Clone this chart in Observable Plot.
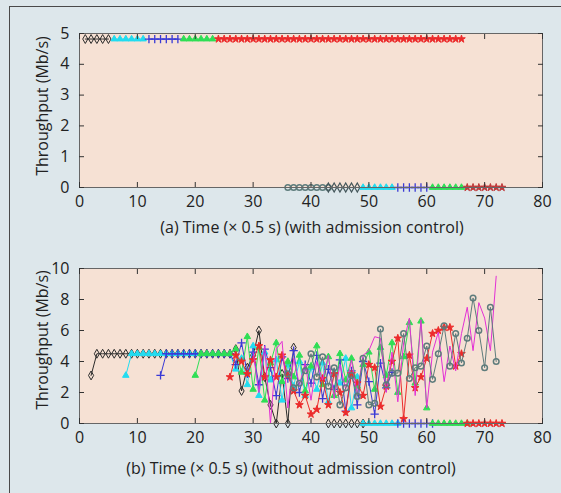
<!DOCTYPE html>
<html><head><meta charset="utf-8">
<script src="https://cdn.jsdelivr.net/npm/d3@7"></script>
<script src="https://cdn.jsdelivr.net/npm/@observablehq/plot@0.6"></script>
<style>
html,body{margin:0;padding:0;background:#dde7eb;}
#page{position:relative;width:561px;height:493px;background:#dde7eb;overflow:hidden;font-family:"Open Sans",sans-serif;color:#222;}
#border{position:absolute;left:9px;top:6px;width:700px;height:700px;border-top:1.5px solid #4a4a4a;border-left:1.5px solid #4a4a4a;}
.panel{position:absolute;left:0;}
.cap{position:absolute;transform:translate(-50%,-50%);white-space:nowrap;font-size:16px;}
.ylab{position:absolute;transform:translate(-50%,-50%) rotate(-90deg);white-space:nowrap;font-size:16px;}
</style></head>
<body>
<div id="page">
  <div id="border"></div>
  <div class="panel" id="pa" style="top:0px"></div>
  <div class="panel" id="pb" style="top:240px"></div>
  <div class="ylab" style="left:42px;top:106px">Throughput (Mb/s)</div>
  <div class="ylab" style="left:42px;top:340px">Throughput (Mb/s)</div>
  <div class="cap" style="left:312px;top:227px">(a) Time (× 0.5 s) (with admission control)</div>
  <div class="cap" style="left:291px;top:468px">(b) Time (× 0.5 s) (without admission control)</div>
</div>
<script>
// ---- tick labels ----
const timeTicks = [0, 10, 20, 30, 40, 50, 60, 70, 80];
const aTicksY = [0, 1, 2, 3, 4, 5];
const bTicksY = [0, 2, 4, 6, 8, 10];

// ---- panel (a): with admission control (flat levels) ----
const aHigh = 4.82;
const aLow = 0;
const aBlackT = [1, 2, 3, 4, 5];
const aCyanT = [6, 7, 8, 9, 10, 11];
const aBlueT = [12, 13, 14, 15, 16, 17];
const aGreenT = [18, 19, 20, 21, 22, 23];
const aRedT = [24, 25, 26, 27, 28, 29, 30, 31, 32, 33, 34, 35, 36, 37, 38, 39, 40, 41, 42, 43, 44, 45, 46, 47, 48, 49, 50, 51, 52, 53, 54, 55, 56, 57, 58, 59, 60, 61, 62, 63, 64, 65, 66];
const aMagentaLowT = [30, 31, 32, 33, 34, 35, 36];
const aGreyLowT = [36, 37, 38, 39, 40, 41, 42, 43];
const aDarkLowT = [43, 44, 45, 46, 47, 48];
const aCyanLowT = [49, 50, 51, 52, 53, 54];
const aBlueLowT = [55, 56, 57, 58, 59, 60];
const aGreenLowT = [61, 62, 63, 64, 65, 66];
const aRedLowT = [67, 68, 69, 70, 71, 72, 73];

// ---- panel (b): without admission control ----
const bBlackT0 = 2;
const bBlack = [3.1, 4.5, 4.5, 4.5, 4.5, 4.5, 4.5, 4.5, 4.5, 4.5, 4.5, 4.5, 4.5, 4.5, 4.5, 4.5, 4.5, 4.5, 4.5, 4.5, 4.5, 4.5, 4.5, 4.5, 4.5,
  4.8, 2.1, 3.6, 4.4, 6.0, 3.0, 1.2, 0, 3.2, 0, 4.9];
const bCyanT0 = 8;
const bCyan = [3.1, 4.5, 4.5, 4.5, 4.5, 4.5, 4.5, 4.5, 4.5, 4.5, 4.5, 4.5, 4.5, 4.5, 4.5, 4.5, 4.5, 4.5, 4.5,
  3.5, 4.2, 2.5, 5.0, 1.8, 4.6, 2.8, 4.1, 1.5, 3.8, 2.4, 4.0, 1.8, 3.6, 2.2, 3.9, 1.4, 3.3, 2.6, 4.2, 1.0, 3.0];
const bBlueT0 = 14;
const bBlue = [3.1, 4.5, 4.5, 4.5, 4.5, 4.5, 4.5, 4.5, 4.5, 4.5, 4.5, 4.5, 4.5,
  3.8, 5.2, 3.2, 4.6, 2.5, 4.8, 3.6, 1.8, 4.3, 2.9, 4.7, 2.0, 3.8, 2.6, 4.4, 1.6, 3.5, 2.2, 4.1, 0.8, 3.4, 1.2, 4.0, 2.7, 0.6, 3.9, 2.3, 3.3];
const bGreenT0 = 20;
const bGreen = [3.1, 4.5, 4.5, 4.5, 4.5, 4.5, 4.5,
  4.8, 3.3, 5.6, 2.2, 4.9, 1.5, 3.9, 5.2, 2.7, 4.0, 3.0, 4.4, 2.1, 3.7, 5.0, 2.5, 4.3, 1.8, 4.5, 2.8, 4.2, 2.4, 3.8, 4.6,
  2.2, 4.9, 3.1, 5.2, 2.0, 4.3, 6.5, 2.6, 6.6, 1.0];
const bRedT0 = 26;
const bRed = [3.0, 4.4, 4.0, 3.2, 4.1, 5.0, 3.0, 4.1, 3.0, 4.4, 3.1, 2.1, 1.2, 1.8, 0.6, 0.9, 2.9, 1.2, 3.2, 2.0, 0.7,
  3.2, 2.6, 1.8, 3.8, 3.6, 1.1, 2.4, 4.0, 5.5, 0.3, 4.4, 2.3, 3.0, 4.2, 5.8, 6.0, 6.2, 6.2, 3.7, 4.5];
const bMagentaT0 = 30;
const bMagenta = [4.6, 2.0, 5.0, 0.0, 4.8, 5.3, 1.0, 4.2, 2.5, 3.9, 1.5, 4.0, 2.8, 4.4, 1.6, 3.8, 2.2, 4.1, 1.9, 4.4, 4.7,
  5.6, 5.5, 2.0, 4.6, 1.4, 5.2, 6.8, 1.8, 6.7, 1.0, 4.6, 5.9, 2.7, 5.0, 3.4, 5.8, 7.5, 4.7, 7.8, 6.8, 4.7, 9.5];
const bGreyT0 = 36;
const bGrey = [3.2, 2.3, 2.6, 3.4, 4.5, 3.0, 4.3, 2.4, 3.6, 1.2, 2.3, 3.1, 1.75, 4.2, 1.2, 1.3, 6.1, 2.5, 3.25, 3.25,
  5.8, 2.9, 3.6, 3.7, 5.0, 2.85, 4.5, 6.3, 3.7, 5.8, 3.9, 5.5, 8.1, 6.0, 3.6, 7.5, 4.0];
const bBlackLowT = [43, 44, 45, 46, 47, 48, 49];
const bCyanLowT = [49, 50, 51, 52, 53, 54, 55];
const bBlueLowT = [55, 56, 57, 58, 59, 60, 61];
const bGreenLowT = [61, 62, 63, 64, 65, 66, 67];
const bRedLowT = [67, 68, 69, 70, 71, 72, 73];

// ---- styles ----
const C = {
  black: "#2b2b2b", cyan: "#22dcf0", blue: "#3a3ad6", green: "#2fde55",
  red: "#ec2b2b", magenta: "#e330d5", grey: "#5e7c7c", dark: "#44565a", redLow: "#c0393a"
};
const sty = {
  black: {symbol: "diamond", fill: "none", stroke: C.black, r: 2.7, sw: 1},
  dark: {symbol: "diamond", fill: "none", stroke: C.dark, r: 2.7, sw: 1.2},
  cyan: {symbol: "triangle", fill: C.cyan, stroke: C.cyan, r: 2.4, sw: 1},
  blue: {symbol: "plus", fill: "none", stroke: C.blue, r: 2.8, sw: 1.3},
  green: {symbol: "triangle", fill: C.green, stroke: C.green, r: 2.4, sw: 1},
  red: {symbol: "star", fill: C.red, stroke: C.red, r: 2.4, sw: 1},
  redLow: {symbol: "star", fill: C.redLow, stroke: C.redLow, r: 2.4, sw: 1},
  grey: {symbol: "circle", fill: "none", stroke: C.grey, r: 2.8, sw: 1.5},
  magenta: {symbol: null}
};

function flat(ts, level) { return ts.map(t => ({x: t, y: level})); }
function seq(t0, vals) { return vals.map((v, i) => ({x: t0 + i, y: v})); }

function seriesMarks(data, key) {
  const s = sty[key];
  const col = key === "redLow" ? C.redLow : C[key];
  const out = [Plot.line(data, {x: "x", y: "y", stroke: col, strokeWidth: 1})];
  if (s.symbol) out.push(Plot.dot(data, {x: "x", y: "y", symbol: s.symbol, r: s.r, fill: s.fill, stroke: s.stroke, strokeWidth: s.sw}));
  return out;
}

const intFmt = d3.format("d");

function makePanel(height, marginTop, marginBottom, yDomain, yTicks, list) {
  const marks = [Plot.frame({fill: "#f6e1d4", stroke: "none"})];
  for (const [data, key] of list) marks.push(...seriesMarks(data, key));
  marks.push(Plot.frame({stroke: "#666", strokeWidth: 1}));
  marks.push(Plot.axisX({anchor: "bottom", ticks: timeTicks, tickFormat: intFmt, tickSize: -5, tickPadding: 13, fontSize: 16, stroke: "#333"}));
  marks.push(Plot.axisX({anchor: "top", ticks: timeTicks, tickSize: -5, tickFormat: () => "", stroke: "#333"}));
  marks.push(Plot.axisY({anchor: "left", ticks: yTicks, tickFormat: intFmt, tickSize: -5, tickPadding: 15, fontSize: 16, stroke: "#333"}));
  marks.push(Plot.axisY({anchor: "right", ticks: yTicks, tickSize: -5, tickFormat: () => "", stroke: "#333"}));
  return Plot.plot({
    width: 561, height, marginTop, marginBottom, marginLeft: 79, marginRight: 19,
    x: {domain: [0, 80], label: null},
    y: {domain: yDomain, label: null},
    style: {background: "transparent", fontFamily: "'Open Sans', sans-serif", fontSize: "16px", color: "#222", overflow: "visible"},
    marks
  });
}

const panelA = makePanel(240, 33, 53, [0, 5], aTicksY, [
  [flat(aBlackT, aHigh), "black"],
  [flat(aCyanT, aHigh), "cyan"],
  [flat(aBlueT, aHigh), "blue"],
  [flat(aGreenT, aHigh), "green"],
  [flat(aRedT, aHigh), "red"],
  [flat(aMagentaLowT, aLow), "magenta"],
  [flat(aGreyLowT, aLow), "grey"],
  [flat(aDarkLowT, aLow), "dark"],
  [flat(aCyanLowT, aLow), "cyan"],
  [flat(aBlueLowT, aLow), "blue"],
  [flat(aGreenLowT, aLow), "green"],
  [flat(aRedLowT, aLow), "redLow"]
]);
document.getElementById("pa").appendChild(panelA);

const panelB = makePanel(253, 28, 70, [0, 10], bTicksY, [
  [seq(bBlackT0, bBlack), "black"],
  [seq(bCyanT0, bCyan), "cyan"],
  [seq(bBlueT0, bBlue), "blue"],
  [seq(bGreenT0, bGreen), "green"],
  [seq(bRedT0, bRed), "red"],
  [seq(bMagentaT0, bMagenta), "magenta"],
  [seq(bGreyT0, bGrey), "grey"],
  [flat(bBlackLowT, 0), "black"],
  [flat(bCyanLowT, 0), "cyan"],
  [flat(bBlueLowT, 0), "blue"],
  [flat(bGreenLowT, 0), "green"],
  [flat(bRedLowT, 0), "red"]
]);
document.getElementById("pb").appendChild(panelB);
</script>
</body></html>
